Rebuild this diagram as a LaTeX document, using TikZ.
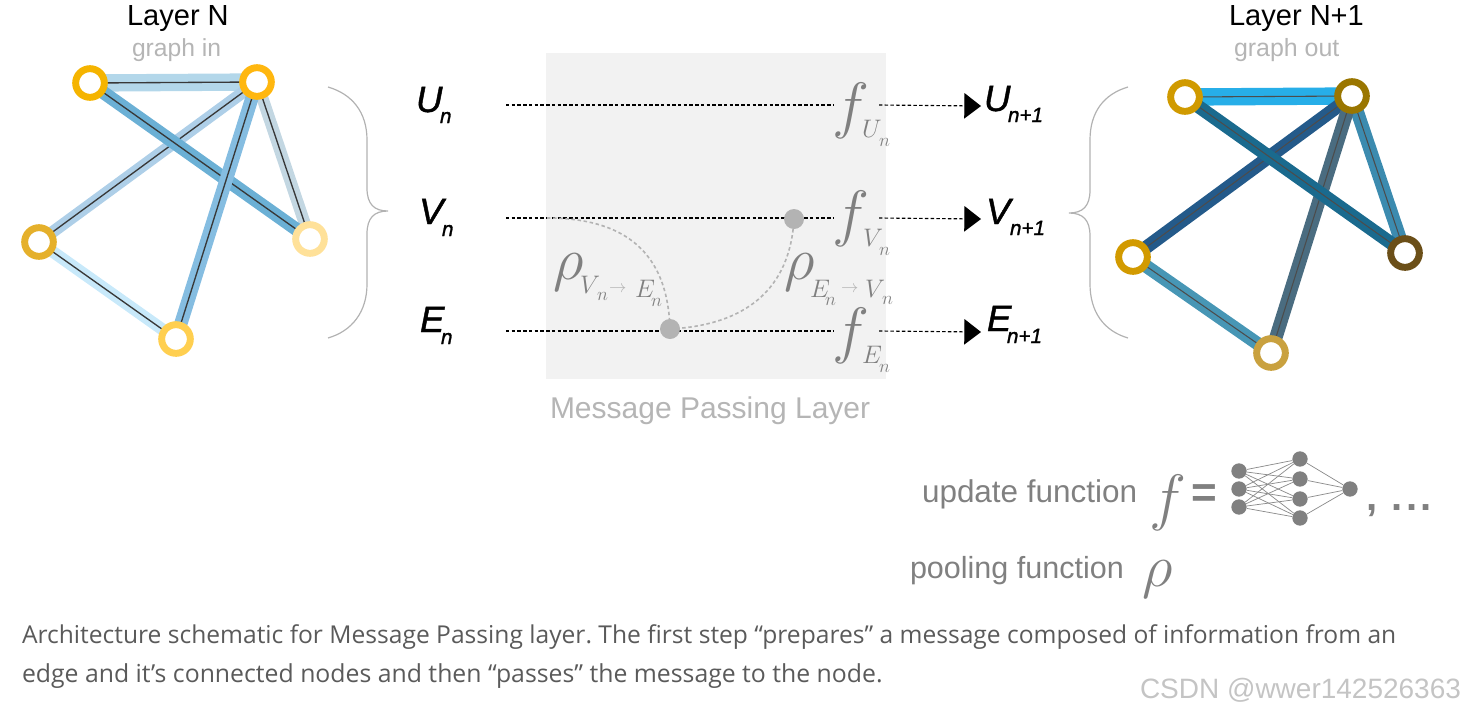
\RequirePackage{fix-cm}
\documentclass[tikz,border=0pt]{standalone}
\usepackage{fontspec}
\setmainfont{Liberation Sans}
\newfontfamily\capfont{Open Sans}
\newfontfamily\labfont[ItalicFeatures={FakeBold=1.2}]{Liberation Sans}
\usetikzlibrary{arrows.meta,backgrounds}
\newcommand\sz[1]{\fontsize{#1}{#1}\selectfont}
\definecolor{mgray}{HTML}{808080}
\definecolor{lgray}{HTML}{B5B5B5}
\definecolor{panel}{HTML}{F2F2F2}
\definecolor{capcol}{HTML}{5A5A5A}
\definecolor{markcol}{HTML}{C4C4C4}
\definecolor{dotgray}{HTML}{B3B3B3}
\definecolor{ra}{HTML}{F5B400}\definecolor{rb}{HTML}{FFB70F}\definecolor{rc}{HTML}{E5B02B}\definecolor{rd}{HTML}{FFE199}\definecolor{re}{HTML}{FFCF50}
\definecolor{sa}{HTML}{D09A00}\definecolor{sb}{HTML}{9A7600}\definecolor{sc}{HTML}{D29A00}\definecolor{sd}{HTML}{6B4F18}\definecolor{se}{HTML}{C9A13F}
\definecolor{eab}{HTML}{B3D7EA}\definecolor{ead}{HTML}{6BB0D5}\definecolor{ebc}{HTML}{AECFE8}\definecolor{ebd}{HTML}{C3D7E2}\definecolor{ebe}{HTML}{85BDE1}\definecolor{ece}{HTML}{C8E9FA}
\definecolor{fab}{HTML}{27AEE8}\definecolor{fad}{HTML}{1A6A8E}\definecolor{fbc}{HTML}{245A8A}\definecolor{fbd}{HTML}{3C8BAF}\definecolor{fbe}{HTML}{4A6C80}\definecolor{fce}{HTML}{4796B5}
\tikzset{
  txt/.style={inner sep=0pt,outer sep=0pt,anchor=base west},
  ring/.style={circle,draw=#1,fill=white,line width=5.2pt,minimum size=21.5pt,inner sep=0pt},
  bandL/.style 2 args={draw=#1,line width=#2,postaction={draw=black!78,line width=1pt}},
  bandR/.style 2 args={draw=#1,line width=#2,postaction={draw=black!70,line width=0.8pt}},
  rowline/.style={black,line width=0.85pt,dash pattern=on 2.6pt off 1.7pt},
  pool/.style={dotgray,line width=1.2pt,dash pattern=on 2.6pt off 2pt},
  dotn/.style={circle,fill=#1,draw=none,inner sep=0pt},
  brace/.style={line width=0.9pt,draw=black!30},
  nnline/.style={draw=black!45,line width=0.55pt},
  bigf/.style={txt,text=mgray,font=\sz{47}},
  bigrho/.style={txt,text=mgray,font=\sz{45}},
  subm/.style={txt,text=mgray,font=\sz{19}},
  subn/.style={txt,text=mgray,font=\sz{14}},
  arrm/.style={txt,text=dotgray,font=\sz{13}},
  lab/.style={txt,font=\labfont\itshape\sz{27.5}},
  labsub/.style={txt,font=\labfont\itshape\sz{15.5}},
}
\begin{document}
\frenchspacing
\begin{tikzpicture}[x=0.75pt,y=-0.75pt]
\useasboundingbox (0,0) rectangle (1464,715);
% left graph
\node[ring=ra] (la) at (90,83) {};
\node[ring=rb] (lb) at (257,82) {};
\node[ring=rc] (lc) at (39,242) {};
\node[ring=rd] (ld) at (310,239) {};
\node[ring=re] (le) at (176,339) {};
% right graph
\node[ring=sa] (ra) at (1185,97) {};
\node[ring=sb] (rb) at (1352,96) {};
\node[ring=sc] (rc) at (1133,257) {};
\node[ring=sd] (rd) at (1405,253) {};
\node[ring=se] (re) at (1271,353) {};
% row points
\coordinate (u0) at (506,105);\coordinate (u1) at (833,105);\coordinate (u2) at (879,105);\coordinate (u3) at (981,106);
\coordinate (v0) at (506,218);\coordinate (v1) at (833,218);\coordinate (v2) at (879,218);\coordinate (v3) at (981,219);
\coordinate (e0) at (506,331);\coordinate (e1) at (833,331);\coordinate (e2) at (879,331);\coordinate (e3) at (981,332);
\coordinate (vs) at (547,218);
\node[dotn=dotgray,minimum size=15pt] (pe) at (670,329) {};
\node[dotn=dotgray,minimum size=15pt] (pv) at (794,219) {};
\begin{pgfonlayer}{background}
\fill[panel] (546,53) rectangle (886,379);
\draw[bandL={eab}{13pt}] (la.center) -- (lb.center);
\draw[bandL={ebd}{9pt}] (lb.center) -- (ld.center);
\draw[bandL={ebc}{9pt}] (lb.center) -- (lc.center);
\draw[bandL={ece}{9pt}] (lc.center) -- (le.center);
\draw[bandL={ead}{10pt}] (la.center) -- (ld.center);
\draw[bandL={ebe}{10pt}] (lb.center) -- (le.center);
\draw[bandR={fab}{13pt}] (ra.center) -- (rb.center);
\draw[bandR={fbd}{10pt}] (rb.center) -- (rd.center);
\draw[bandR={fbc}{10pt}] (rb.center) -- (rc.center);
\draw[bandR={fce}{10pt}] (rc.center) -- (re.center);
\draw[bandR={fbe}{10pt}] (rb.center) -- (re.center);
\draw[bandR={fad}{10pt}] (ra.center) -- (rd.center);
\draw[rowline] (u0) -- (u1);
\draw[rowline] (v0) -- (v1);
\draw[rowline] (e0) -- (e1);
\draw[rowline,-{Triangle[length=12.5pt,width=19pt]}] (u2) -- (u3);
\draw[rowline,-{Triangle[length=12.5pt,width=19pt]}] (v2) -- (v3);
\draw[rowline,-{Triangle[length=12.5pt,width=19pt]}] (e2) -- (e3);
\draw[pool] (vs) .. controls (635,218) and (668,262) .. (pe.center);
\draw[pool] (pe.center) .. controls (745,325) and (790,290) .. (pv.center);
\end{pgfonlayer}
% braces
\draw[brace] (328,87) .. controls (352,94) and (367,112) .. (367,140) -- (367,188) .. controls (367,204) and (374,211) .. (388,211) .. controls (374,211) and (367,218) .. (367,234) -- (367,284) .. controls (367,312) and (352,331) .. (328,338);
\draw[brace] (1128,87) .. controls (1104,94) and (1090,112) .. (1090,140) -- (1090,190) .. controls (1090,206) and (1083,213) .. (1069,213) .. controls (1083,213) and (1090,220) .. (1090,236) -- (1090,284) .. controls (1090,312) and (1104,331) .. (1128,338);
% titles
\node[txt,font=\sz{21.8}] (t1) at (127,25) {Layer N};
\node[txt,font=\sz{18.5},text=lgray] (t2) at (132,56) {graph in};
\node[txt,font=\sz{21.8}] (t3) at (1229,25) {Layer N+1};
\node[txt,font=\sz{18.7},text=lgray] (t4) at (1234,56) {graph out};
\node[txt,font=\sz{22.5},text=lgray] (t5) at (550,418) {Message Passing Layer};
% left labels
\node[lab] (lu) at (416,112) {U};\node[labsub] (lun) at (440,123) {n};
\node[lab] (lv) at (419,224) {V};\node[labsub] (lvn) at (442,236) {n};
\node[lab] (le2) at (420,332) {E};\node[labsub] (len) at (441,344) {n};
% right labels
\node[lab] (ru) at (984,111) {U};\node[labsub] (run) at (1008,122) {n+1};
\node[lab] (rv) at (986,224) {V};\node[labsub] (rvn) at (1010,235) {n+1};
\node[lab] (re2) at (987,331) {E};\node[labsub] (ren) at (1007,343) {n+1};
% f in panel
\node[bigf] (fu) at (832,126) {$f$};\node[subm] (fus) at (862,137) {$U$};\node[subn] (fun) at (879,146) {$n$};
\node[bigf] (fv) at (832,234) {$f$};\node[subm] (fvs) at (863,246) {$V$};\node[subn] (fvn) at (879,255) {$n$};
\node[bigf] (fe) at (832,351) {$f$};\node[subm] (fes) at (862,363) {$E$};\node[subn] (fen) at (879,372) {$n$};
% rho in panel
\node[bigrho] (r1) at (553,279) {$\rho$};\node[subm] (r1v) at (580,293) {$V$};\node[subn] (r1n) at (597,300) {$n$};
\node[arrm] (r1a) at (609,292) {$\rightarrow$};
\node[subm] (r1e) at (635,297) {$E$};\node[subn] (r1m) at (651,306) {$n$};
\node[bigrho] (r2) at (784,279) {$\rho$};\node[subm] (r2e) at (810,297) {$E$};\node[subn] (r2n) at (825,305) {$n$};
\node[arrm] (r2a) at (841,292) {$\rightarrow$};
\node[subm] (r2v) at (865,297) {$V$};\node[subn] (r2m) at (882,304) {$n$};
% legend
\node[txt,font=\sz{23.6},text=mgray] (l1) at (922,502) {update function};
\node[txt,font=\sz{22.9},text=mgray] (l2) at (910,578) {pooling function};
\node[bigf] (lf) at (1149,518) {$f$};
\node[txt,font=\sz{33}\bfseries,text=mgray] (leq) at (1191,507) {=};
\node[bigrho] (lr) at (1142,586) {$\rho$};
\node[txt,font=\sz{30}\bfseries,text=mgray] (lc2) at (1366,510) {,\hspace{11pt}.\kern2.5pt.\kern2.5pt.};
% network
\foreach \n/\y in {1/471,2/489,3/507} \node[dotn=mgray,minimum size=11.5pt] (a\n) at (1239,\y) {};
\foreach \n/\y in {1/459,2/479,3/499,4/518} \node[dotn=mgray,minimum size=11.5pt] (b\n) at (1300,\y) {};
\node[dotn=mgray,minimum size=11.5pt] (c1) at (1350,489) {};
\foreach \i in {1,2,3} \foreach \j in {1,2,3,4} \draw[nnline] (a\i) -- (b\j);
\foreach \j in {1,2,3,4} \draw[nnline] (b\j) -- (c1);
% caption
\node[txt,font=\capfont\sz{18.45},text=capcol] (c2) at (22,643) {Architecture schematic for Message Passing layer. The first step “prepares” a message composed of information from an};
\node[txt,font=\capfont\sz{18.6},text=capcol] (c3) at (22,682) {edge and it’s connected nodes and then “passes” the message to the node.};
\node[txt,font=\sz{21},text=markcol] (wm) at (1140,698) {CSDN @wwer142526363};
\end{tikzpicture}
\end{document}
